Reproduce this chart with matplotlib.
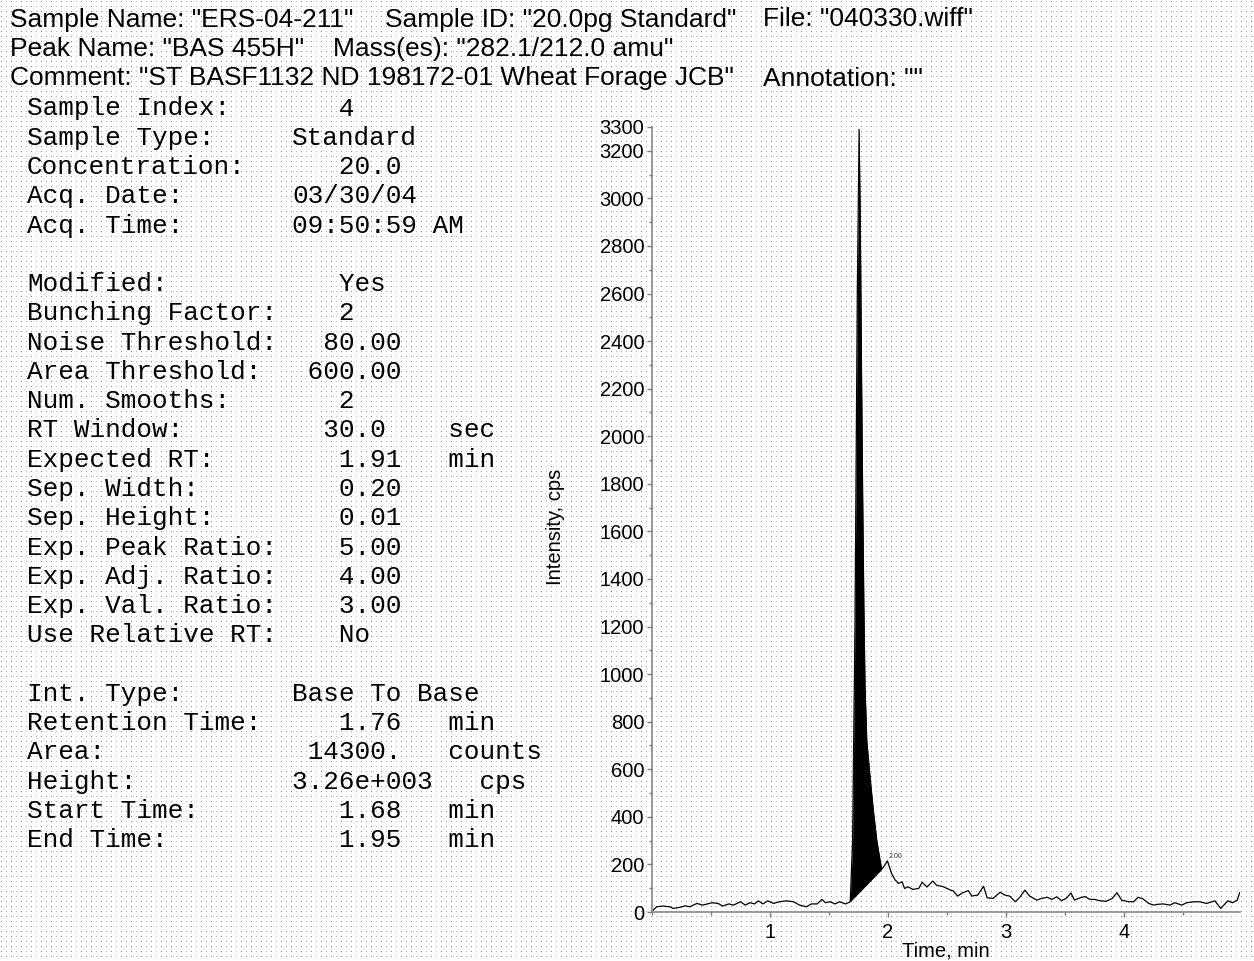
import matplotlib

matplotlib.use("Agg")
import matplotlib.pyplot as plt
import numpy as np
from matplotlib.ticker import MultipleLocator

W, H = 1254, 961

HEADER_LINES = [
    ['Sample Name: "ERS-04-211"', 'Sample ID: "20.0pg Standard"', 'File: "040330.wiff"'],
    ['Peak Name: "BAS 455H"', 'Mass(es): "282.1/212.0 amu"'],
    ['Comment: "ST BASF1132 ND 198172-01 Wheat Forage JCB"', 'Annotation: ""'],
]

INFO_LABELS = [
    "Sample Index:", "Sample Type:", "Concentration:", "Acq. Date:", "Acq. Time:", None,
    "Modified:", "Bunching Factor:", "Noise Threshold:", "Area Threshold:", "Num. Smooths:",
    "RT Window:", "Expected RT:", "Sep. Width:", "Sep. Height:", "Exp. Peak Ratio:",
    "Exp. Adj. Ratio:", "Exp. Val. Ratio:", "Use Relative RT:", None,
    "Int. Type:", "Retention Time:", "Area:", "Height:", "Start Time:", "End Time:",
]
INFO_VALUES = [
    "   4", "Standard", "   20.0", "03/30/04", "09:50:59 AM", None,
    "   Yes", "   2", "  80.00", " 600.00", "   2",
    "  30.0", "   1.91", "   0.20", "   0.01", "   5.00",
    "   4.00", "   3.00", "   No", None,
    "Base To Base", "   1.76", " 14300.", "3.26e+003", "   1.68", "   1.95",
]
INFO_UNITS = [
    "", "", "", "", "", None,
    "", "", "", "", "",
    "sec", "min", "", "", "",
    "", "", "", None,
    "", "min", "counts", "  cps", "min", "min",
]

# chromatogram trace (time in min, intensity in cps)
TIME = [
    0.01, 0.04, 0.09, 0.15, 0.18, 0.24, 0.28, 0.32, 0.38, 0.43, 0.51, 0.56, 0.60, 0.65,
    0.69, 0.75, 0.79, 0.83, 0.87, 0.90, 0.94, 0.98, 1.03, 1.08, 1.14, 1.20, 1.25, 1.31,
    1.35, 1.40, 1.44, 1.47, 1.51, 1.55, 1.59, 1.64, 1.68,
    1.70, 1.72, 1.74, 1.755, 1.765, 1.775, 1.785, 1.795, 1.805, 1.82, 1.85,
    1.875, 1.904, 1.925, 1.946,
    1.97, 1.995, 2.03, 2.06, 2.09, 2.12, 2.14, 2.17, 2.21, 2.26, 2.29, 2.33, 2.38, 2.41,
    2.47, 2.53, 2.55, 2.59, 2.63, 2.68, 2.71, 2.76, 2.81, 2.84, 2.89, 2.95, 2.99, 3.03,
    3.08, 3.12, 3.16, 3.20, 3.26, 3.30, 3.35, 3.39, 3.43, 3.47, 3.51, 3.55, 3.58, 3.63,
    3.67, 3.71, 3.75, 3.80, 3.85, 3.90, 3.94, 3.98, 4.04, 4.08, 4.12, 4.16, 4.21, 4.25,
    4.28, 4.33, 4.39, 4.43, 4.49, 4.53, 4.59, 4.64, 4.70, 4.77, 4.82, 4.88, 4.92, 4.96,
    4.98,
]
INTENSITY = [
    8, 22, 25, 22, 15, 20, 26, 22, 36, 29, 39, 36, 25, 34,
    29, 43, 29, 39, 34, 47, 34, 47, 36, 43, 47, 43, 29, 22,
    34, 34, 53, 39, 43, 34, 43, 34, 43,
    300, 1200, 2600, 3290, 2900, 2300, 1750, 1300, 950, 720, 555,
    430, 303, 240, 179,
    195, 215, 162, 135, 120, 127, 99, 106, 95, 99, 125, 105, 130, 113,
    106, 92, 90, 67, 80, 90, 67, 71, 108, 60, 57, 83, 71, 67,
    43, 64, 92, 67, 50, 57, 62, 53, 64, 48, 57, 80, 50, 60,
    65, 53, 53, 47, 45, 57, 81, 50, 43, 43, 62, 55, 36, 29,
    32, 34, 29, 39, 29, 39, 43, 43, 36, 47, 15, 47, 39, 50,
    81,
]

PEAK_START = 1.68
PEAK_END = 1.946
PEAK_LABEL = "2.00"
PEAK_LABEL_AT = (1.995, 215)

Y_TICKS = list(range(0, 3300, 200)) + [3300]
X_TICKS = [1, 2, 3, 4]


def px(x, y):
    return x / W, 1 - y / H


fig = plt.figure(figsize=(W / 100, H / 100), dpi=100, facecolor="white")

# dotted background texture
dots = np.zeros((H, W, 4))
dots[1::5, 1::10] = [0.55, 0.55, 0.55, 1.0]
dots[1::5, 6::10] = [0.75, 0.75, 0.75, 1.0]
fig.figimage(dots, xo=0, yo=0, zorder=-10)

sans = "Liberation Sans"
mono = "Liberation Mono"

header_x = [[10, 385, 763], [10, 333], [10, 763]]
for i, line in enumerate(HEADER_LINES):
    base = 26.5 + i * 29.5
    for text, x in zip(line, header_x[i]):
        fig.text(*px(x, base), text, family=sans, fontsize=19, va="baseline", ha="left")

for i, (lab, val, unit) in enumerate(zip(INFO_LABELS, INFO_VALUES, INFO_UNITS)):
    if lab is None:
        continue
    base = 115.5 + i * 29.27
    fig.text(*px(27, base), lab, family=mono, fontsize=18.7, va="baseline", ha="left")
    shown = f"{val:<10}{unit}" if unit else val
    fig.text(*px(292, base), shown, family=mono, fontsize=18.7, va="baseline", ha="left")

ax = fig.add_axes([652 / W, 1 - 912 / H, (1240 - 652) / W, (912 - 127) / H])
ax.set_facecolor("none")

t = np.asarray(TIME, dtype=float)
y = np.asarray(INTENSITY, dtype=float)
ax.plot(t, y, color="black", linewidth=0.9)

mask = (t >= PEAK_START) & (t <= PEAK_END)
i0 = np.argmax(mask)
i1 = len(mask) - 1 - np.argmax(mask[::-1])
base_line = np.interp(t[mask], [t[i0], t[i1]], [y[i0], y[i1]])
ax.fill_between(t[mask], y[mask], base_line, color="black", linewidth=0)
ax.text(PEAK_LABEL_AT[0] + 0.01, PEAK_LABEL_AT[1] + 5, PEAK_LABEL, fontsize=5,
        family=sans, color="#333333", va="bottom", ha="left")

ax.set_xlim(0, 4.983)
ax.set_ylim(0, 3300)
ax.set_xticks(X_TICKS)
ax.set_yticks(Y_TICKS)
ax.xaxis.set_minor_locator(MultipleLocator(0.5))
ax.yaxis.set_minor_locator(MultipleLocator(100))

for side in ("top", "right"):
    ax.spines[side].set_visible(False)
for side in ("left", "bottom"):
    ax.spines[side].set_color("#7f7f7f")
    ax.spines[side].set_linewidth(1.1)

ax.tick_params(which="major", direction="out", length=3.6, width=1, color="#7f7f7f",
               labelsize=14.5, labelcolor="black", pad=2)
ax.tick_params(which="minor", direction="out", length=2.2, width=1, color="#7f7f7f")
ax.tick_params(axis="x", which="major", pad=4)
for lbl in ax.get_xticklabels() + ax.get_yticklabels():
    lbl.set_family(sans)

ax.set_xlabel("Time, min", family=sans, fontsize=14.5, labelpad=0)
ax.set_ylabel("Intensity, cps", family=sans, fontsize=14.5)
ax.yaxis.set_label_coords(-0.148, 0.49)

fig.savefig("out.png", dpi=100, facecolor="white")
